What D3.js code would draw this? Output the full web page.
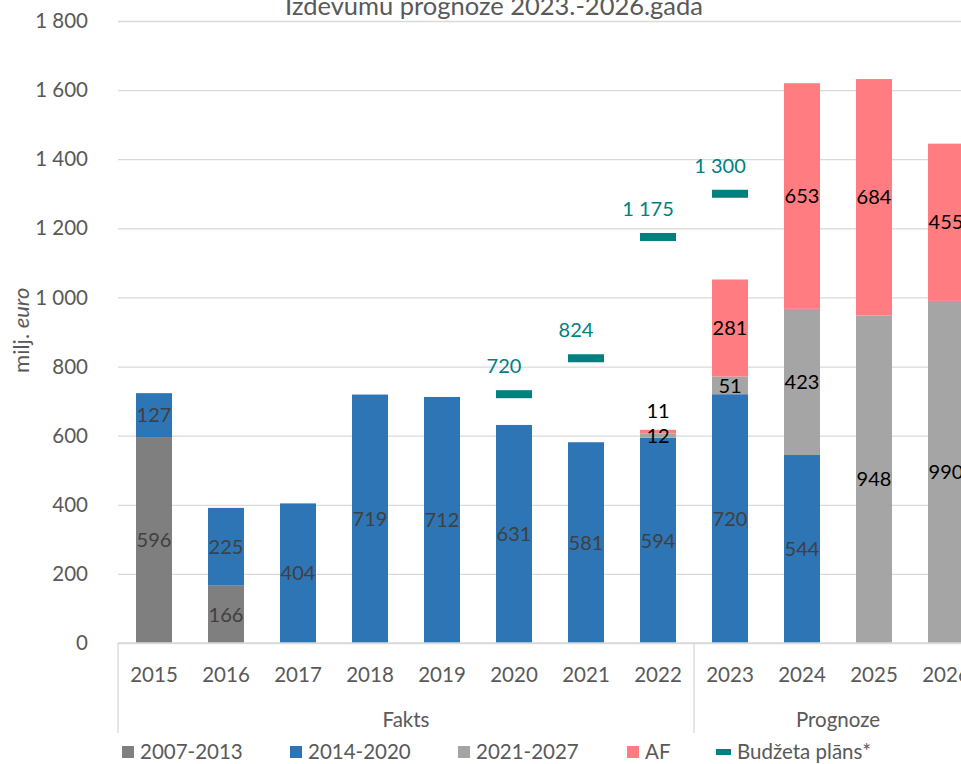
<!DOCTYPE html>
<html>
<head>
<meta charset="utf-8">
<script src="https://cdn.jsdelivr.net/npm/d3@7"></script>
<style>
body { margin: 0; background: #fff; }
text { font-family: Lato, "Open Sans", sans-serif; }
</style>
</head>
<body>
<div id="chart"></div>
<script>
// data
var years = ["2015", "2016", "2017", "2018", "2019", "2020", "2021", "2022", "2023", "2024", "2025", "2026"];
var groups = [{name: "Fakts", from: "2015", to: "2022"}, {name: "Prognoze", from: "2023", to: "2026"}];
var v2007 = [596, 166, 0, 0, 0, 0, 0, 0, 0, 0, 0, 0];
var v2014 = [127, 225, 404, 719, 712, 631, 581, 594, 720, 544, 0, 0];
var v2021 = [0, 0, 0, 0, 0, 0, 0, 12, 51, 423, 948, 990];
var vAF = [0, 0, 0, 0, 0, 0, 0, 11, 281, 653, 684, 455];
var budgetYears = ["2020", "2021", "2022", "2023"];
var budgetPlan = [720, 824, 1175, 1300];
var yTicks = [0, 200, 400, 600, 800, 1000, 1200, 1400, 1600, 1800];

var series = [
    {key: "2007-2013", values: v2007, color: "#7f7f7f", label: "#404040"},
    {key: "2014-2020", values: v2014, color: "#2e75b6", label: "#404040"},
    {key: "2021-2027", values: v2021, color: "#a5a5a5", label: "#000000"},
    {key: "AF", values: vAF, color: "#ff7c80", label: "#000000"}
];
var teal = "#00807f";

var margin = {top: 21, bottom: 121, left: 118, right: 0};
var W = 961, H = 764;
var width = 864;
var height = H - margin.top - margin.bottom;

var loc = d3.formatLocale({decimal: ",", thousands: "\u00a0", grouping: [3], currency: ["", ""]});
var fmt = loc.format(",d");

var svg = d3.select("#chart").append("svg")
    .attr("width", W)
    .attr("height", H);

var g = svg.append("g")
    .attr("transform", "translate(" + margin.left + "," + margin.top + ")");

var x = d3.scaleBand().domain(years).range([0, width]).paddingInner(0.5).paddingOuter(0.25);
var y = d3.scaleLinear().domain([0, 1800]).range([height, 0]);

// gridlines
g.append("g")
    .attr("class", "grid")
    .call(d3.axisLeft(y).tickValues(yTicks).tickSize(-(W - margin.left)).tickFormat(""))
    .call(s => s.select(".domain").remove())
    .call(s => s.selectAll("line").attr("stroke", "#d9d9d9").attr("stroke-width", 1.3));

// y tick labels
g.append("g")
    .attr("class", "y-axis")
    .attr("transform", "translate(-27,0)")
    .call(d3.axisLeft(y).tickValues(yTicks).tickSize(0).tickFormat(fmt))
    .call(s => s.select(".domain").remove())
    .call(s => s.selectAll("text").attr("fill", "#595959").attr("font-size", 20.5));

// stacked data
var stackData = years.map((yr, i) => {
    var o = {year: yr};
    series.forEach(s => { o[s.key] = s.values[i]; });
    return o;
});
var stacked = d3.stack().keys(series.map(s => s.key))(stackData);

var layers = g.selectAll(".layer")
    .data(stacked)
    .enter().append("g")
    .attr("class", "layer")
    .attr("fill", (d, i) => series[i].color);

layers.selectAll("rect")
    .data(d => d)
    .enter().append("rect")
    .filter(d => d[1] - d[0] > 0)
    .attr("x", d => x(d.data.year))
    .attr("width", x.bandwidth())
    .attr("y", d => y(d[1]))
    .attr("height", d => y(d[0]) - y(d[1]));

// segment labels
stacked.forEach((layer, li) => {
    layer.forEach((d, i) => {
        var v = d[1] - d[0];
        if (v <= 0) return;
        var yy = y((d[0] + d[1]) / 2);
        var isTop = li == stacked.length - 1;
        if (v < 20 && isTop) yy = y(d[1]) - 19;
        g.append("text")
            .attr("x", x(d.data.year) + x.bandwidth() / 2)
            .attr("y", yy)
            .attr("dy", "0.36em")
            .attr("text-anchor", "middle")
            .attr("font-size", 20)
            .attr("fill", series[li].label)
            .text(fmt(v));
    });
});

// budget plan markers
budgetYears.forEach((yr, i) => {
    g.append("rect")
        .attr("x", x(yr))
        .attr("width", x.bandwidth())
        .attr("y", y(budgetPlan[i]) - 4)
        .attr("height", 8)
        .attr("fill", teal);
    g.append("text")
        .attr("x", x(yr) + x.bandwidth() / 2 - 10)
        .attr("y", y(budgetPlan[i]) - 28)
        .attr("dy", "0.36em")
        .attr("text-anchor", "middle")
        .attr("font-size", 20)
        .attr("fill", teal)
        .text(fmt(budgetPlan[i]));
});

// x axis
var xAxis = g.append("g")
    .attr("class", "x-axis")
    .attr("transform", "translate(0," + height + ")");
xAxis.append("line")
    .attr("x1", 0).attr("x2", W - margin.left)
    .attr("stroke", "#d9d9d9").attr("stroke-width", 1.3);
xAxis.selectAll(".year")
    .data(years)
    .enter().append("text")
    .attr("class", "year")
    .attr("x", d => x(d) + x.bandwidth() / 2)
    .attr("y", 32)
    .attr("dy", "0.36em")
    .attr("text-anchor", "middle")
    .attr("font-size", 20.5)
    .attr("fill", "#595959")
    .text(d => d);

var step = x.step();
var edge = d => x(d) - x.paddingInner() * step / 2;
var bounds = [edge(groups[0].from), edge(groups[1].from)];
xAxis.selectAll(".sep")
    .data(bounds)
    .enter().append("line")
    .attr("class", "sep")
    .attr("x1", d => d).attr("x2", d => d)
    .attr("y1", 0).attr("y2", 90)
    .attr("stroke", "#d9d9d9").attr("stroke-width", 1.3);
xAxis.selectAll(".grp")
    .data(groups)
    .enter().append("text")
    .attr("class", "grp")
    .attr("x", d => (edge(d.from) + edge(d.to) + step) / 2)
    .attr("y", 77)
    .attr("dy", "0.36em")
    .attr("text-anchor", "middle")
    .attr("font-size", 20.5)
    .attr("fill", "#595959")
    .text(d => d.name);

// title
svg.append("text")
    .attr("x", 494)
    .attr("y", 15)
    .attr("text-anchor", "middle")
    .attr("font-size", 25.5)
    .attr("fill", "#595959")
    .text("Izdevumu prognoze 2023.-2026.gada");

// y axis title
var yt = svg.append("text")
    .attr("transform", "translate(29," + (margin.top + y(905)) + ") rotate(-90)")
    .attr("text-anchor", "middle")
    .attr("font-size", 22)
    .attr("fill", "#595959");
yt.append("tspan").text("milj. ");
yt.append("tspan").attr("font-style", "italic").text("euro");

// legend
var legendItems = series.map(s => ({key: s.key, color: s.color, line: false}))
    .concat([{key: "Budžeta plāns*", color: teal, line: true}]);
var legendX = [122, 290, 458, 627, 716];
var legend = svg.append("g").attr("transform", "translate(0,752)");
legendItems.forEach((d, i) => {
    var lg = legend.append("g").attr("transform", "translate(" + legendX[i] + ",0)");
    if (d.line) {
        lg.append("rect").attr("x", 0).attr("y", -3).attr("width", 15).attr("height", 6).attr("fill", d.color);
    } else {
        lg.append("rect").attr("x", 0).attr("y", -6).attr("width", 12).attr("height", 12).attr("fill", d.color);
    }
    lg.append("text")
        .attr("x", d.line ? 21 : 18)
        .attr("y", 0)
        .attr("dy", "0.36em")
        .attr("font-size", 20.5)
        .attr("fill", "#595959")
        .text(d.key);
});
</script>
</body>
</html>
